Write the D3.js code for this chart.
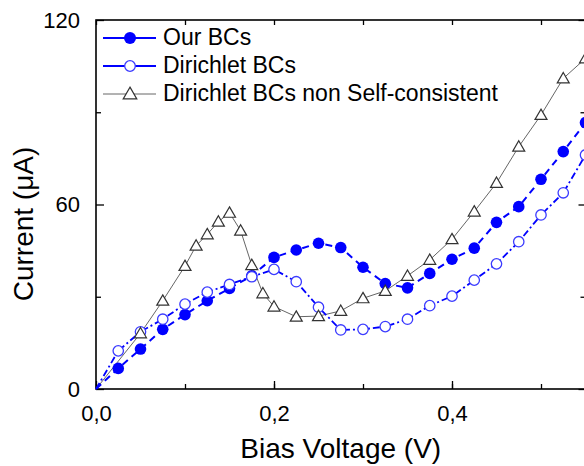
<!DOCTYPE html>
<html><head><meta charset="utf-8">
<script src="https://cdn.jsdelivr.net/npm/d3@7"></script>
<style>body{margin:0;background:#fff}svg{display:block;font-family:"Liberation Sans",Arial,sans-serif}</style>
</head><body><svg id="c" width="584" height="466"></svg>
<script>
const voltageCircles = [0,0.025,0.05,0.075,0.1,0.125,0.15,0.175,0.2,0.225,0.25,0.275,0.3,0.325,0.35,0.375,0.4,0.425,0.45,0.475,0.5,0.525,0.55];
const ourBCs = [0,6.7,13.0,19.4,24.2,28.7,32.7,36.8,42.8,45.2,47.4,46.0,39.6,34.3,32.9,37.6,42.2,45.8,54.2,59.3,68.2,77.2,86.6];
const dirichletBCs = [0,12.4,18.6,22.7,27.6,31.5,34.0,36.5,38.9,34.9,26.6,19.2,19.4,20.3,22.7,27.1,30.2,35.4,40.7,47.9,56.6,63.8,76.1];
const voltageTriangles = [0,0.05,0.075,0.1,0.1125,0.125,0.1375,0.15,0.1625,0.175,0.1875,0.2,0.225,0.25,0.275,0.3,0.325,0.35,0.375,0.4,0.425,0.45,0.475,0.5,0.525,0.55];
const nonSelfConsistent = [0,18.1,28.7,40.0,46.6,50.3,54.4,57.3,51.5,40.3,31.1,26.8,23.5,23.7,25.4,29.5,31.9,36.8,42.0,48.7,57.7,67.0,78.8,89.1,101.0,107.5];
const xTicksMajor = [0,0.2,0.4];
const xTicksAll = [0,0.1,0.2,0.3,0.4,0.5];
const yTicksMajor = [0,60,120];
const yTicksMinor = [30,90];
const legendLabels = ["Our BCs","Dirichlet BCs","Dirichlet BCs non Self-consistent"];

const svg = d3.select("#c");
const L=96, R=585.5, T=20, B=389;
const x = d3.scaleLinear().domain([0,0.55]).range([L,R]);
const y = d3.scaleLinear().domain([0,120]).range([B,T]);
const fmt = v => d3.format(".1f")(v).replace(".",",");

// axes
const ax = svg.append("g");
function drawAxis(g, scale, orient, major, minor, labels){
  const axis = (orient==="bottom"?d3.axisBottom:orient==="top"?d3.axisTop:orient==="left"?d3.axisLeft:d3.axisRight)(scale);
  return axis;
}
// bottom
const gb = svg.append("g").attr("transform",`translate(0,${B})`);
gb.call(d3.axisBottom(x).tickValues(xTicksAll).tickSize(-5).tickFormat(""));
gb.append("g").call(d3.axisBottom(x).tickValues(xTicksMajor).tickSize(-8).tickPadding(16).tickFormat(fmt));
const gt = svg.append("g").attr("transform",`translate(0,${T})`);
gt.call(d3.axisTop(x).tickValues(xTicksAll).tickSize(-5).tickFormat(""));
const gl = svg.append("g").attr("transform",`translate(${L},0)`);
gl.call(d3.axisLeft(y).tickValues(yTicksMinor).tickSize(-5).tickFormat(""));
gl.append("g").call(d3.axisLeft(y).tickValues(yTicksMajor).tickSize(-8).tickPadding(16).tickFormat(d3.format("d")));
const gr = svg.append("g").attr("transform",`translate(${R},0)`);
gr.call(d3.axisRight(y).tickValues(yTicksMinor).tickSize(-5).tickFormat(""));
gr.append("g").call(d3.axisRight(y).tickValues(yTicksMajor).tickSize(-7).tickFormat(""));
svg.selectAll(".domain").remove();
svg.selectAll(".tick line").attr("stroke","#000").attr("stroke-width",1.3);
svg.selectAll(".tick text").attr("font-size",22).attr("fill","#000").attr("font-family","Liberation Sans, Arial, sans-serif");
gb.selectAll(".tick text").attr("dy","0.71em");
// frame
svg.append("rect").attr("x",L).attr("y",T).attr("width",R-L).attr("height",B-T)
  .attr("fill","none").attr("stroke","#000").attr("stroke-width",1.6);

// titles
svg.append("text").attr("x",(L+R)/2).attr("y",458).attr("text-anchor","middle")
  .attr("font-size",28).text("Bias Voltage (V)");
svg.append("text").attr("transform","translate(33,224) rotate(-90)").attr("text-anchor","middle")
  .attr("font-size",28).text("Current (\u03bcA)");

const line = d3.line().x(d=>x(d[0])).y(d=>y(d[1]));
const s1 = voltageCircles.map((v,i)=>[v,ourBCs[i]]);
const s2 = voltageCircles.map((v,i)=>[v,dirichletBCs[i]]);
const s3 = voltageTriangles.map((v,i)=>[v,nonSelfConsistent[i]]);

const blue="#0000ff", openBlue="#3b3bff", gray="#666", triStroke="#333";
// lines
svg.append("path").attr("d",line(s3)).attr("fill","none").attr("stroke",gray).attr("stroke-width",1);
svg.append("path").attr("d",line(s1)).attr("fill","none").attr("stroke",blue).attr("stroke-width",2).attr("stroke-dasharray","7,5");
svg.append("path").attr("d",line(s2)).attr("fill","none").attr("stroke",blue).attr("stroke-width",1.8).attr("stroke-dasharray","7,3,2,3");

// markers
const tri = d3.symbol().type(d3.symbolTriangle).size(62);
svg.append("g").selectAll("circle").data(s1.filter(d=>d[0]>0)).join("circle")
  .attr("cx",d=>x(d[0])).attr("cy",d=>y(d[1])).attr("r",5.8).attr("fill",blue);
svg.append("g").selectAll("circle").data(s2.filter(d=>d[0]>0)).join("circle")
  .attr("cx",d=>x(d[0])).attr("cy",d=>y(d[1])).attr("r",5.2).attr("fill","#fff").attr("stroke",openBlue).attr("stroke-width",1.3);
svg.append("g").selectAll("path").data(s3.filter(d=>d[0]>0)).join("path")
  .attr("d",tri).attr("transform",d=>`translate(${x(d[0])},${y(d[1])+1})`)
  .attr("fill","#fff").attr("stroke",triStroke).attr("stroke-width",1.2);

// legend
const lg = svg.append("g");
const rows=[38,66,94];
const styles=[{c:blue,w:2},{c:blue,w:2},{c:gray,w:1}];
legendLabels.forEach((lab,i)=>{
  const yy=rows[i];
  lg.append("line").attr("x1",103).attr("x2",156).attr("y1",yy).attr("y2",yy).attr("stroke",styles[i].c).attr("stroke-width",styles[i].w);
  if(i===0) lg.append("circle").attr("cx",130).attr("cy",yy).attr("r",6).attr("fill",blue);
  if(i===1) lg.append("circle").attr("cx",130).attr("cy",yy).attr("r",5.3).attr("fill","#fff").attr("stroke",openBlue).attr("stroke-width",1.3);
  if(i===2) lg.append("path").attr("d",d3.symbol().type(d3.symbolTriangle).size(80)()).attr("transform",`translate(130,${yy+1})`).attr("fill","#fff").attr("stroke",triStroke).attr("stroke-width",1.2);
  lg.append("text").attr("x",163).attr("y",yy+6.5).attr("font-size",23).text(lab);
});
</script></body></html>
